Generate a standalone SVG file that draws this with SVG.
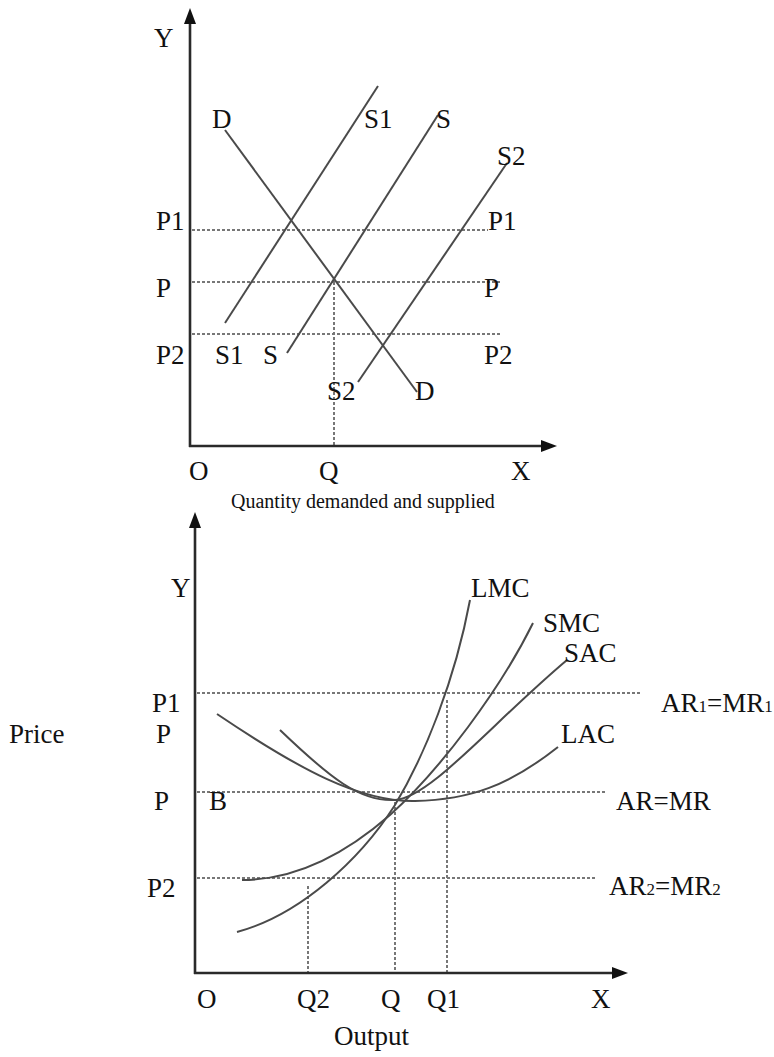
<svg xmlns="http://www.w3.org/2000/svg" width="774" height="1057" viewBox="0 0 774 1057">
<style>
text{font-family:"Liberation Serif","Times New Roman",serif;font-size:27px;fill:#111}
.sm{font-size:20px}
.sub{font-size:17px}
.axis{stroke:#2a2a2a;stroke-width:2.6;fill:none}
.curve{stroke:#4a4a4a;stroke-width:2;fill:none}
.dot{stroke:#777;stroke-width:2;stroke-dasharray:3 2;fill:none}
</style>
<defs>
<marker id="ah" markerUnits="userSpaceOnUse" markerWidth="16" markerHeight="12" refX="6" refY="6" orient="auto">
<path d="M0,0 L16,6 L0,12 z" fill="#111"/>
</marker>
</defs>
<rect width="774" height="1057" fill="#fff"/>

<g id="chart-top">
<g id="top-dotted">
<line class="dot" x1="192" y1="230" x2="488" y2="230"/>
<line class="dot" x1="192" y1="282" x2="502" y2="282"/>
<line class="dot" x1="192" y1="334" x2="501" y2="334"/>
<line class="dot" x1="334" y1="282" x2="334" y2="445"/>
</g>
<g id="top-curves">
<line class="curve" x1="225" y1="130" x2="417" y2="392"/>
<line class="curve" x1="378" y1="86" x2="225" y2="323"/>
<line class="curve" x1="438" y1="115" x2="287" y2="353"/>
<line class="curve" x1="507" y1="163" x2="358" y2="382"/>
</g>
<g id="top-axes">
<line class="axis" x1="190" y1="447" x2="190" y2="18" marker-end="url(#ah)"/>
<line class="axis" x1="189" y1="446" x2="547" y2="446" marker-end="url(#ah)"/>
</g>
<g id="top-labels">
<text x="154" y="47">Y</text>
<text x="212" y="128">D</text>
<text x="364" y="128">S1</text>
<text x="436" y="128">S</text>
<text x="497" y="165">S2</text>
<text x="156" y="230">P1</text>
<text x="488" y="230">P1</text>
<text x="156" y="297">P</text>
<text x="484" y="297">P</text>
<text x="156" y="364">P2</text>
<text x="215" y="364">S1</text>
<text x="263" y="364">S</text>
<text x="484" y="364">P2</text>
<text x="327" y="400">S2</text>
<text x="415" y="400">D</text>
<text x="189" y="480">O</text>
<text x="319" y="480">Q</text>
<text x="511" y="480">X</text>
<text class="sm" x="231" y="508">Quantity demanded and supplied</text>
</g>
</g>

<g id="chart-bottom">
<g id="bottom-dotted">
<line class="dot" x1="197" y1="693" x2="642" y2="693"/>
<line class="dot" x1="197" y1="792" x2="607" y2="792"/>
<line class="dot" x1="197" y1="878" x2="597" y2="878"/>
<line class="dot" x1="308" y1="886" x2="308" y2="972"/>
<line class="dot" x1="395" y1="802" x2="395" y2="972"/>
<line class="dot" x1="447" y1="700" x2="447" y2="972"/>
</g>
<g id="bottom-curves">
<path id="LAC" class="curve" d="M217,714 C300,770 360,802 415,801 C470,800 510,785 558,747"/>
<path id="SAC" class="curve" d="M280,730 C330,778 360,802 395,800 C430,798 490,725 567,660"/>
<path id="SMC" class="curve" d="M242,880 C300,880 350,850 390,815 C440,770 500,690 533,623"/>
<path id="LMC" class="curve" d="M237,932 C300,915 360,860 395,805 C425,755 455,680 470,600"/>
</g>
<g id="bottom-axes">
<line class="axis" x1="195" y1="974" x2="195" y2="522" marker-end="url(#ah)"/>
<line class="axis" x1="194" y1="973" x2="618" y2="973" marker-end="url(#ah)"/>
</g>
<g id="bottom-labels">
<text x="171" y="597">Y</text>
<text x="471" y="597">LMC</text>
<text x="543" y="632">SMC</text>
<text x="564" y="662">SAC</text>
<text x="152" y="712">P1</text>
<text x="661" y="712">AR<tspan class="sub">1</tspan>=MR<tspan class="sub">1</tspan></text>
<text x="9" y="743">Price</text>
<text x="156" y="743">P</text>
<text x="561" y="743">LAC</text>
<text x="154" y="810">P</text>
<text x="209" y="810">B</text>
<text x="616" y="810">AR=MR</text>
<text x="147" y="897">P2</text>
<text x="609" y="895">AR<tspan class="sub">2</tspan>=MR<tspan class="sub">2</tspan></text>
<text x="197" y="1008">O</text>
<text x="297" y="1008">Q2</text>
<text x="381" y="1008">Q</text>
<text x="427" y="1008">Q1</text>
<text x="591" y="1008">X</text>
<text x="334" y="1045">Output</text>
</g>
</g>
</svg>
